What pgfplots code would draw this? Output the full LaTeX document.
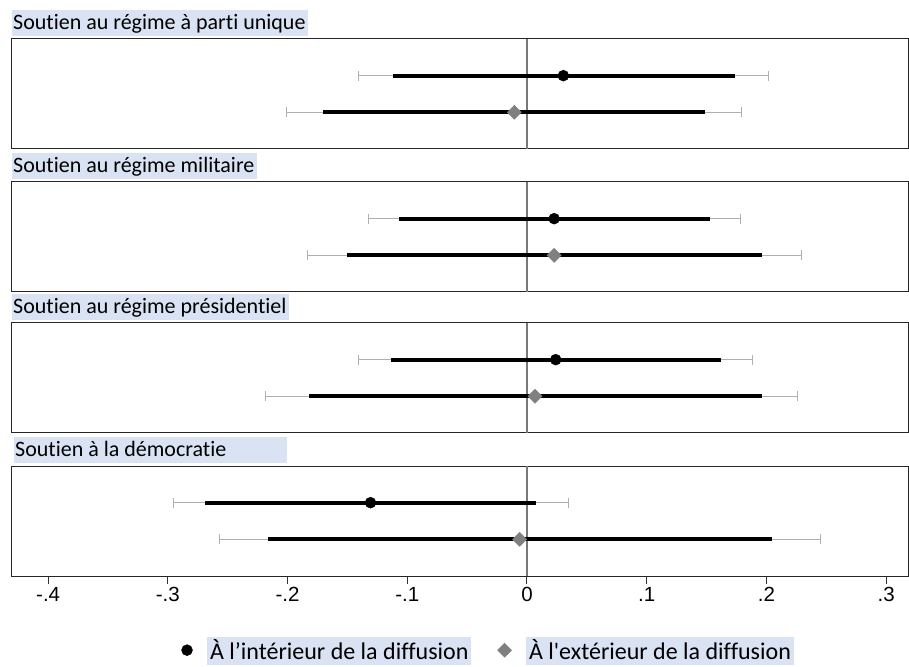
\documentclass[border=0pt]{standalone}
\usepackage{pgfplots}
\pgfplotsset{compat=1.18}
\usepackage{fontspec}
\setmainfont{Carlito}[Ligatures={TeX,NoCommon}]
\newfontfamily\rawfont{Carlito}[Ligatures={TeXOff,NoCommon}]
\newfontfamily\arialfont{Liberation Sans}
\definecolor{titlebg}{RGB}{218,227,243}
\definecolor{cigray}{RGB}{175,175,175}
\definecolor{diagray}{RGB}{128,128,128}
\definecolor{zerogray}{RGB}{120,120,120}
\newcommand\hl[1]{{\setlength{\fboxsep}{0pt}\colorbox{titlebg}{\rule[-6pt]{0pt}{28pt}\hspace{3pt}#1\hspace{3pt}}}}
\pgfplotsset{
  panel/.style={
    scale only axis, width=896pt, height=110pt,
    xmin=-0.4302, xmax=0.3183, ymin=0, ymax=3,
    axis line style={black!85, line width=1pt},
    ytick=\empty, xtick=\empty,
    anchor=south west,
  },
  zeroline/.style={zerogray, line width=1.3pt, forget plot},
  thinci/.style={cigray, line width=1pt, mark=|, mark size=5pt, mark options={solid, line width=1pt}, forget plot},
  thickci/.style={black, line width=4pt, forget plot},
  dotm/.style={only marks, mark=*, mark size=5.5pt, black, forget plot},
  diam/.style={only marks, mark=square*, mark size=5pt, mark options={rotate=45, fill=diagray, draw=diagray}, forget plot},
  legimg/.style={legend image code/.code={\draw[##1] plot coordinates {(0pt,-1pt)};}},
}
\tikzset{
  ttl/.style={anchor=south west, fill=titlebg, inner xsep=1pt, inner ysep=0pt, text height=20pt, text depth=6pt, font=\fontsize{22}{26}\selectfont, yshift=3pt},
}
\begin{document}
\begin{tikzpicture}
\useasboundingbox (0,0) rectangle (909pt,666pt);
% Panel 1
\begin{axis}[panel, name=p1, at={(12pt,517pt)}]
\addplot[zeroline] coordinates {(0,0) (0,3)};
\addplot[thinci] coordinates {(-0.141,2) (0.2016,2)};
\addplot[thickci] coordinates {(-0.112,2) (0.174,2)};
\addplot[thinci] coordinates {(-0.2007,1) (0.179,1)};
\addplot[thickci] coordinates {(-0.170,1) (0.1487,1)};
\addplot[dotm] coordinates {(0.0304,2)};
\addplot[diam] coordinates {(-0.0106,1)};
\end{axis}
\node[ttl] at (p1.north west) {\makebox[294pt][l]{Soutien au régime à parti unique}};
% Panel 2
\begin{axis}[panel, name=p2, at={(12pt,374pt)}]
\addplot[zeroline] coordinates {(0,0) (0,3)};
\addplot[thinci] coordinates {(-0.132,2) (0.178,2)};
\addplot[thickci] coordinates {(-0.107,2) (0.153,2)};
\addplot[thinci] coordinates {(-0.183,1) (0.229,1)};
\addplot[thickci] coordinates {(-0.150,1) (0.196,1)};
\addplot[dotm] coordinates {(0.0227,2)};
\addplot[diam] coordinates {(0.0227,1)};
\end{axis}
\node[ttl] at (p2.north west) {\makebox[243pt][l]{Soutien au régime militaire}};
% Panel 3
\begin{axis}[panel, name=p3, at={(12pt,233pt)}]
\addplot[zeroline] coordinates {(0,0) (0,3)};
\addplot[thinci] coordinates {(-0.1407,2) (0.1887,2)};
\addplot[thickci] coordinates {(-0.1136,2) (0.1624,2)};
\addplot[thinci] coordinates {(-0.2186,1) (0.2256,1)};
\addplot[thickci] coordinates {(-0.182,1) (0.196,1)};
\addplot[dotm] coordinates {(0.024,2)};
\addplot[diam] coordinates {(0.0067,1)};
\end{axis}
\node[ttl] at (p3.north west) {\makebox[275pt][l]{Soutien au régime présidentiel}};
% Panel 4
\begin{axis}[panel, name=p4, at={(12pt,90pt)},
  xtick={-0.4,-0.3,-0.2,-0.1,0,0.1,0.2,0.3},
  xticklabels={-.4,-.3,-.2,-.1,0,.1,.2,.3},
  xtick pos=bottom, tick align=outside, major tick length=8pt,
  tick style={black!80, line width=1pt},
  xticklabel style={font=\arialfont\fontsize{20.5}{24}\selectfont, text=black},
  legend columns=2,
  legend style={draw=none, fill=none, at={(0.1892,-0.665)}, anchor=west, inner sep=0pt, outer sep=0pt,
    font=\fontsize{24}{28}\selectfont,
    nodes={inner sep=0pt, outer sep=0pt},
    /tikz/every odd column/.style={column sep=14.5pt},
    /tikz/every even column/.style={column sep=26pt},
    /tikz/column 3/.style={column sep=11pt}},
]
\addplot[zeroline] coordinates {(0,0) (0,3)};
\addplot[thinci] coordinates {(-0.2954,2) (0.0345,2)};
\addplot[thickci] coordinates {(-0.2688,2) (0.0077,2)};
\addplot[thinci] coordinates {(-0.257,1) (0.2453,1)};
\addplot[thickci] coordinates {(-0.2161,1) (0.2044,1)};
\addplot[dotm] coordinates {(-0.1307,2)};
\addplot[diam] coordinates {(-0.0061,1)};
\addlegendimage{only marks, mark=*, mark size=5.5pt, black, legimg}
\addlegendentry{\hl{À l’intérieur de la diffusion}}
\addlegendimage{only marks, mark=square*, mark size=5pt, mark options={rotate=45, fill=diagray, draw=diagray}, legimg}
\addlegendentry{\hl{À l{\rawfont'}extérieur de la diffusion}}
\end{axis}
\node[ttl, xshift=2pt] at (p4.north west) {\makebox[271pt][l]{Soutien à la démocratie}};
\end{tikzpicture}
\end{document}
